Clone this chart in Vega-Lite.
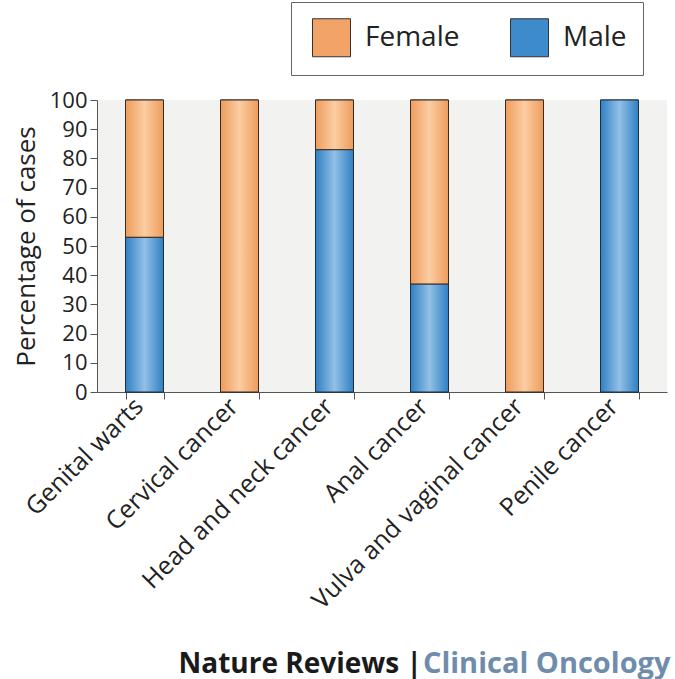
{
  "$schema": "https://vega.github.io/schema/vega-lite/v6.json",
  "width": 570,
  "height": 292,
  "autosize": {"type": "none"},
  "padding": {"left": 97, "top": 100, "right": 8, "bottom": 287},
  "background": "white",
  "config": {
    "font": "Open Sans",
    "view": {"fill": "#f2f2f1", "stroke": null},
    "axis": {"grid": false, "domainColor": "#555", "tickColor": "#555", "labelColor": "#222", "titleColor": "#222"}
  },
  "data": {
    "values": [
      {"cat": "Genital warts", "sex": "Male", "pct": 53},
      {"cat": "Genital warts", "sex": "Female", "pct": 47},
      {"cat": "Cervical cancer", "sex": "Male", "pct": 0},
      {"cat": "Cervical cancer", "sex": "Female", "pct": 100},
      {"cat": "Head and neck cancer", "sex": "Male", "pct": 83},
      {"cat": "Head and neck cancer", "sex": "Female", "pct": 17},
      {"cat": "Anal cancer", "sex": "Male", "pct": 37},
      {"cat": "Anal cancer", "sex": "Female", "pct": 63},
      {"cat": "Vulva and vaginal cancer", "sex": "Male", "pct": 0},
      {"cat": "Vulva and vaginal cancer", "sex": "Female", "pct": 100},
      {"cat": "Penile cancer", "sex": "Male", "pct": 100},
      {"cat": "Penile cancer", "sex": "Female", "pct": 0}
    ]
  },
  "transform": [
    {"stack": "pct", "groupby": ["cat"], "sort": [{"field": "sex", "order": "descending"}], "as": ["y0", "y1"]},
    {"filter": "datum.pct > 0"}
  ],
  "layer": [
    {
      "mark": {"type": "bar", "stroke": "#222", "strokeWidth": 1},
      "encoding": {
        "x": {
          "field": "cat", "type": "nominal",
          "scale": {"domain": ["Genital warts", "Cervical cancer", "Head and neck cancer", "Anal cancer", "Vulva and vaginal cancer", "Penile cancer"], "paddingInner": 0.6, "paddingOuter": 0.3},
          "axis": {
            "orient": "bottom", "labelAngle": -45, "labelAlign": "right", "labelBaseline": "middle",
            "labelFontSize": 25, "labelPadding": 3, "labelOffset": -6, "labelLimit": 0, "labelOverlap": false,
            "tickBand": "extent", "tickSize": 7,
            "title": "Clinical Oncology", "titleFontSize": 29, "titleFontWeight": "bold", "titleColor": "#6f8cac",
            "titleAnchor": null, "titleAlign": "right", "titleBaseline": "alphabetic", "titleX": 573, "titleY": 280
          }
        },
        "y": {
          "field": "y0", "type": "quantitative",
          "scale": {"domain": [0, 100], "nice": false},
          "axis": {
            "values": [0, 10, 20, 30, 40, 50, 60, 70, 80, 90, 100], "tickCount": 11, "labelOverlap": false, "labelFlush": false,
            "tickSize": 7, "labelFontSize": 22, "labelPadding": 3,
            "title": "Percentage of cases", "titleFontSize": 26, "titleFontWeight": "normal", "titlePadding": 10
          }
        },
        "y2": {"field": "y1"},
        "color": {
          "field": "sex", "type": "nominal",
          "scale": {"domain": ["Female", "Male"], "range": ["#f2a468", "#3d8bca"]},
          "legend": {
            "orient": "none", "legendX": 194, "legendY": -98, "direction": "horizontal", "title": null,
            "symbolType": "square", "symbolSize": 1444, "symbolStrokeColor": "#333", "symbolStrokeWidth": 1,
            "symbolOffset": 5,
            "labelFontSize": 28, "labelColor": "#222", "labelOffset": 14, "columnPadding": 45,
            "padding": 16, "strokeColor": "#666", "fillColor": "white"
          }
        }
      }
    },
    {
      "transform": [{"filter": "datum.sex == 'Male'"}],
      "mark": {
        "type": "bar", "stroke": "#1f2f3f", "strokeWidth": 1,
        "fill": {"gradient": "linear", "x1": 0, "y1": 0, "x2": 1, "y2": 0, "stops": [
          {"offset": 0, "color": "#2f80c4"}, {"offset": 0.5, "color": "#92c0e6"}, {"offset": 1, "color": "#2f80c4"}]}
      },
      "encoding": {
        "x": {
          "field": "cat", "type": "nominal",
          "axis": {
            "orient": "top", "domain": false, "ticks": false, "labels": false,
            "title": "Nature Reviews |", "titleFontSize": 28, "titleFontWeight": "bold", "titleColor": "#1a1a1a",
            "titleAnchor": null, "titleAlign": "left", "titleBaseline": "alphabetic", "titleX": 81, "titleY": 572
          }
        },
        "y": {
          "field": "y0", "type": "quantitative",
          "axis": {
            "values": [0, 10, 20, 30, 40, 50, 60, 70, 80, 90, 100], "tickCount": 11, "labelOverlap": false, "labelFlush": false,
            "tickSize": 7, "labelFontSize": 22, "labelPadding": 3,
            "title": "Percentage of cases", "titleFontSize": 26, "titleFontWeight": "normal", "titlePadding": 10
          }
        },
        "y2": {"field": "y1"}
      }
    },
    {
      "transform": [{"filter": "datum.sex == 'Female'"}],
      "mark": {
        "type": "bar", "stroke": "#3a2a1f", "strokeWidth": 1,
        "fill": {"gradient": "linear", "x1": 0, "y1": 0, "x2": 1, "y2": 0, "stops": [
          {"offset": 0, "color": "#ee9c5c"}, {"offset": 0.5, "color": "#fbcda2"}, {"offset": 1, "color": "#ee9c5c"}]}
      },
      "encoding": {
        "x": {"field": "cat", "type": "nominal", "axis": null},
        "y": {
          "field": "y0", "type": "quantitative",
          "axis": {
            "values": [0, 10, 20, 30, 40, 50, 60, 70, 80, 90, 100], "tickCount": 11, "labelOverlap": false, "labelFlush": false,
            "tickSize": 7, "labelFontSize": 22, "labelPadding": 3,
            "title": "Percentage of cases", "titleFontSize": 26, "titleFontWeight": "normal", "titlePadding": 10
          }
        },
        "y2": {"field": "y1"}
      }
    }
  ],
  "resolve": {"axis": {"x": "independent"}}
}
